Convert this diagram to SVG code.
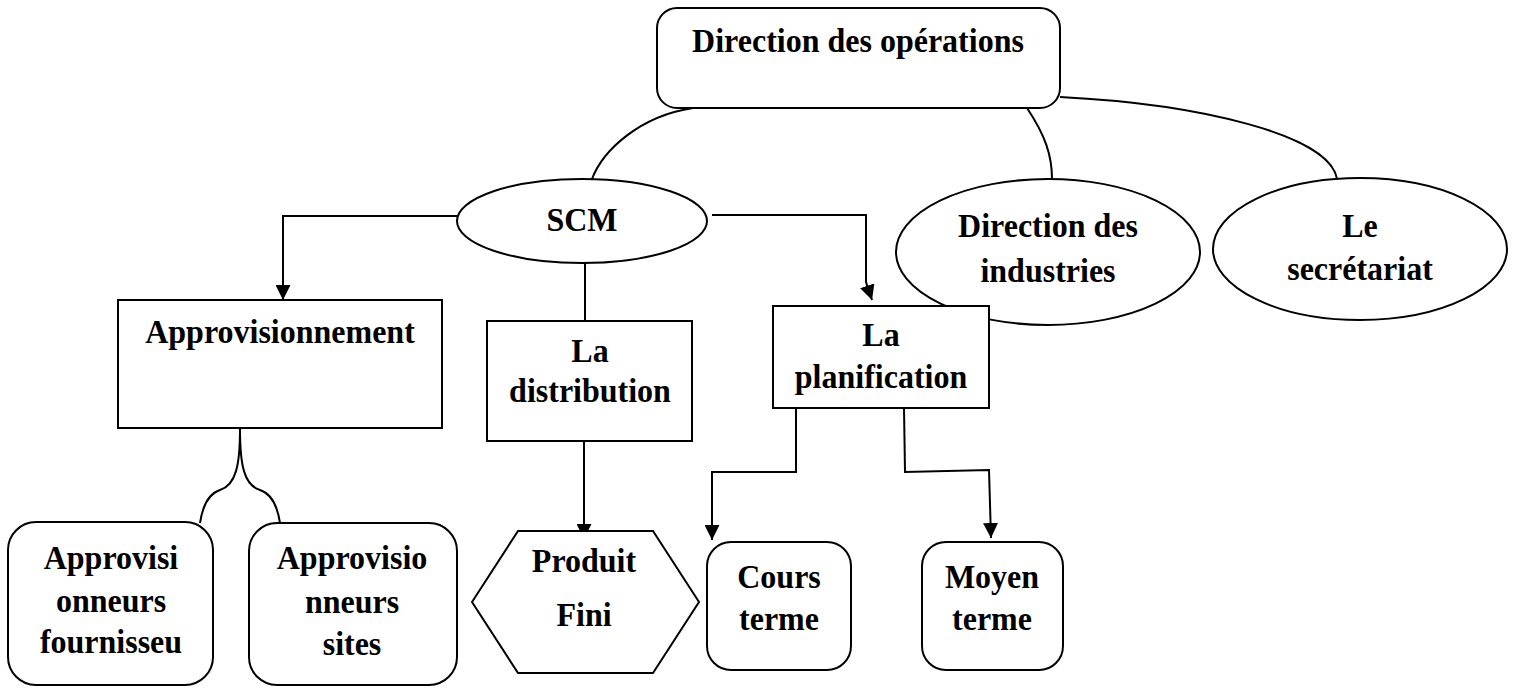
<svg xmlns="http://www.w3.org/2000/svg" width="1517" height="688" viewBox="0 0 1517 688">
  <style>
    .shape { fill: #ffffff; stroke: #000000; stroke-width: 2; }
    .link { fill: none; stroke: #000000; stroke-width: 2; }
    .label { font-family: "Liberation Serif", "Times New Roman", serif; font-weight: bold; font-size: 32px; fill: #000000; text-anchor: middle; }
  </style>
  <defs>
    <marker id="arrow" markerUnits="userSpaceOnUse" markerWidth="15" markerHeight="15" refX="15" refY="7.5" orient="auto">
      <path d="M0,0 L15,7.5 L0,15 Z" fill="#000000"/>
    </marker>
  </defs>
  <rect width="1517" height="688" fill="#ffffff"/>

  <!-- connectors -->
  <g id="connectors">
    <path class="link" d="M693,108 C640,116 603,150 592,179"/>
    <path class="link" d="M1027,108 C1045,135 1052,155 1052,179"/>
    <path class="link" d="M1060,97 C1200,104 1330,135 1337,179"/>
    <path class="link" d="M457,216 H283 V300" marker-end="url(#arrow)"/>
    <path class="link" d="M712,215 H866 V282 L872,300" marker-end="url(#arrow)"/>
    <path class="link" d="M585,263 V321"/>
    <path class="link" d="M584,442 V539" marker-end="url(#arrow)"/>
    <path class="link" d="M796,408 V472 H712 V540" marker-end="url(#arrow)"/>
    <path class="link" d="M904,408 L905,472 L989,470 L991,538" marker-end="url(#arrow)"/>
    <path class="link" d="M240,429 C240,465 236,485 220,490 C207,494 202,510 200,523"/>
    <path class="link" d="M240,429 C240,465 244,485 260,490 C273,494 278,510 280,523"/>
  </g>

  <!-- labels are stretched slightly in height: translate(x,baseline) scale(1,1.08) -->
  <g id="direction-operations">
    <rect class="shape" x="657" y="8" width="403" height="100" rx="20"/>
    <text class="label" transform="translate(858,52) scale(1,1.08)">Direction des opérations</text>
  </g>

  <g id="scm">
    <ellipse class="shape" cx="582" cy="221" rx="125" ry="42"/>
    <text class="label" transform="translate(582,231) scale(1,1.08)">SCM</text>
  </g>

  <g id="direction-industries">
    <ellipse class="shape" cx="1048" cy="252" rx="152" ry="73"/>
    <text class="label" transform="translate(1048,237) scale(1,1.08)">Direction des</text>
    <text class="label" transform="translate(1048,282) scale(1,1.08)">industries</text>
  </g>

  <g id="secretariat">
    <ellipse class="shape" cx="1360" cy="249" rx="147" ry="71"/>
    <text class="label" transform="translate(1360,237) scale(1,1.08)">Le</text>
    <text class="label" transform="translate(1360,280) scale(1,1.08)">secrétariat</text>
  </g>

  <g id="approvisionnement">
    <rect class="shape" x="118" y="300" width="324" height="128"/>
    <text class="label" transform="translate(280,343) scale(1,1.08)">Approvisionnement</text>
  </g>

  <g id="distribution">
    <rect class="shape" x="487" y="321" width="205" height="120"/>
    <text class="label" transform="translate(590,362) scale(1,1.08)">La</text>
    <text class="label" transform="translate(590,402) scale(1,1.08)">distribution</text>
  </g>

  <g id="planification">
    <rect class="shape" x="773" y="306" width="216" height="102"/>
    <text class="label" transform="translate(881,346) scale(1,1.08)">La</text>
    <text class="label" transform="translate(881,388) scale(1,1.08)">planification</text>
  </g>

  <g id="approvisionneurs-fournisseurs">
    <rect class="shape" x="8" y="522" width="205" height="163" rx="28"/>
    <text class="label" transform="translate(111,569) scale(1,1.08)">Approvisi</text>
    <text class="label" transform="translate(111,612) scale(1,1.08)">onneurs</text>
    <text class="label" transform="translate(111,653) scale(1,1.08)">fournisseu</text>
  </g>

  <g id="approvisionneurs-sites">
    <rect class="shape" x="249" y="523" width="208" height="162" rx="28"/>
    <text class="label" transform="translate(352,569) scale(1,1.08)">Approvisio</text>
    <text class="label" transform="translate(352,613) scale(1,1.08)">nneurs</text>
    <text class="label" transform="translate(352,655) scale(1,1.08)">sites</text>
  </g>

  <g id="produit-fini">
    <polygon class="shape" points="472,602 518,531 653,531 699,602 653,673 518,673"/>
    <text class="label" transform="translate(584,572) scale(1,1.08)">Produit</text>
    <text class="label" transform="translate(584,626) scale(1,1.08)">Fini</text>
  </g>

  <g id="cours-terme">
    <rect class="shape" x="707" y="542" width="144" height="128" rx="24"/>
    <text class="label" transform="translate(779,588) scale(1,1.08)">Cours</text>
    <text class="label" transform="translate(779,630) scale(1,1.08)">terme</text>
  </g>

  <g id="moyen-terme">
    <rect class="shape" x="922" y="542" width="141" height="128" rx="24"/>
    <text class="label" transform="translate(992,588) scale(1,1.08)">Moyen</text>
    <text class="label" transform="translate(992,630) scale(1,1.08)">terme</text>
  </g>
</svg>
